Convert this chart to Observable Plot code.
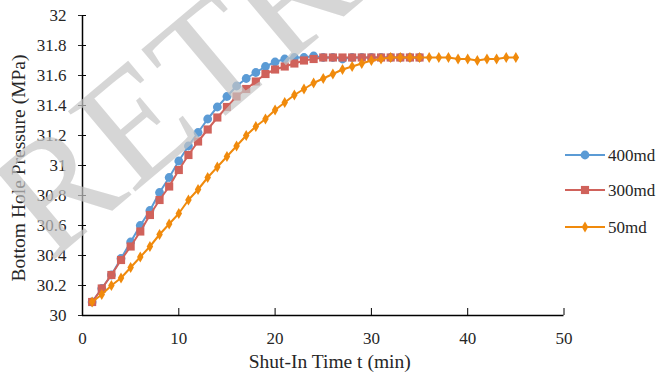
<!DOCTYPE html>
<html><head><meta charset="utf-8">
<script src="https://cdn.jsdelivr.net/npm/d3@7"></script>
<script src="https://cdn.jsdelivr.net/npm/@observablehq/plot@0.6"></script>
<style>
body{margin:0;background:#fff}
#chart{position:relative;width:659px;height:377px;overflow:hidden}
#chart svg text{font-family:"Liberation Serif","Times New Roman",serif}
</style>
</head><body><div id="chart"></div>
<script>
const seriesNames = ["400md", "300md", "50md"];
const seriesColors = ["#5b9bd5", "#d0625b", "#f08a0c"];
const seriesSymbols = ["circle", "square", "diamond"];

const t400 = [1,2,3,4,5,6,7,8,9,10,11,12,13,14,15,16,17,18,19,20,21,22,23,24,25,26,27,28,29,30,31,32,33,34,35];
const p400 = [30.09,30.18,30.27,30.38,30.49,30.60,30.70,30.82,30.92,31.03,31.13,31.22,31.31,31.39,31.46,31.53,31.58,31.62,31.66,31.69,31.71,31.72,31.72,31.73,31.72,31.72,31.71,31.72,31.72,31.72,31.72,31.72,31.72,31.72,31.72];

const t300 = [1,2,3,4,5,6,7,8,9,10,11,12,13,14,15,16,17,18,19,20,21,22,23,24,25,26,27,28,29,30,31,32,33,34,35];
const p300 = [30.09,30.18,30.27,30.37,30.46,30.56,30.67,30.77,30.86,30.97,31.07,31.16,31.24,31.32,31.39,31.46,31.51,31.56,31.61,31.64,31.66,31.68,31.70,31.71,31.72,31.72,31.72,31.72,31.72,31.72,31.72,31.72,31.72,31.72,31.72];

const t50 = [1,2,3,4,5,6,7,8,9,10,11,12,13,14,15,16,17,18,19,20,21,22,23,24,25,26,27,28,29,30,31,32,33,34,35,36,37,38,39,40,41,42,43,44,45];
const p50 = [30.09,30.14,30.20,30.25,30.32,30.39,30.46,30.54,30.61,30.68,30.77,30.84,30.92,30.99,31.06,31.13,31.20,31.26,31.31,31.37,31.42,31.47,31.51,31.55,31.58,31.61,31.64,31.66,31.68,31.70,31.71,31.72,31.72,31.72,31.72,31.72,31.72,31.72,31.71,31.71,31.70,31.71,31.71,31.72,31.72];

const xTicks = [0,10,20,30,40,50];
const yTicks = [30,30.2,30.4,30.6,30.8,31,31.2,31.4,31.6,31.8,32];
const yTickLabels = ["30","30.2","30.4","30.6","30.8","31","31.2","31.4","31.6","31.8","32"];
const xTitle = "Shut-In Time t (min)";
const yTitle = "Bottom Hole Pressure (MPa)";
const watermark = "RETRACTED";

const series = [
  {name: seriesNames[0], t: t400, p: p400},
  {name: seriesNames[1], t: t300, p: p300},
  {name: seriesNames[2], t: t50, p: p50}
];
const rows = series.flatMap(s => s.t.map((t, i) => ({series: s.name, t, p: s.p[i]})));

const font = "Liberation Serif";
const W = 659, H = 377;
const mL = 82, mR = 95.5, mT = 15, mB = 62;
const radii = [4.4, 4.6, 3.4];

const marks = [];
series.forEach((s, k) => {
  const d = rows.filter(r => r.series === s.name);
  marks.push(Plot.line(d, {x: "t", y: "p", stroke: seriesColors[k], strokeWidth: 2}));
  marks.push(Plot.dot(d, {x: "t", y: "p", fill: seriesColors[k], stroke: "none", symbol: seriesSymbols[k], r: radii[k]}));
});

const chart = Plot.plot({
  width: W, height: H,
  marginLeft: mL, marginRight: mR, marginTop: mT, marginBottom: mB,
  style: {fontFamily: font, fontSize: "17px", color: "#262626", background: "#fff", overflow: "visible"},
  x: {domain: [0, 50]},
  y: {domain: [30, 32]},
  marks: [
    ...marks,
    Plot.ruleX([0], {stroke: "#000", strokeWidth: 1.5}),
    Plot.ruleY([30], {stroke: "#000", strokeWidth: 1.5}),
    Plot.tickX(xTicks, {x: d => d, stroke: "#000", insetTop: (H - mT - mB) - 7}),
    Plot.tickY(yTicks, {y: d => d, stroke: "#000", insetRight: (W - mL - mR) - 4}),
    Plot.axisX({ticks: xTicks, tickSize: 0, tickPadding: 16, label: null, fill: "#262626", fontFamily: font, fontSize: 17}),
    Plot.axisY({ticks: yTicks, tickFormat: (d, i) => yTickLabels[i], tickSize: 4, tickPadding: 12, label: null, fill: "#262626", fontFamily: font, fontSize: 17})
  ]
});

const svg = d3.select(chart);
// axis titles
svg.append("text").attr("x", (mL + (W - mR)) / 2 + 7).attr("y", 368)
  .attr("text-anchor", "middle").attr("font-family", font).attr("font-size", 19.5).attr("fill", "#262626").text(xTitle);
svg.append("text").attr("transform", `translate(25,${(mT + H - mB) / 2 + 3}) rotate(-90)`)
  .attr("text-anchor", "middle").attr("font-family", font).attr("font-size", 19.5).attr("fill", "#262626").text(yTitle);

// legend
const legendY = [155, 190, 227];
const sym = {circle: d3.symbolCircle, square: d3.symbolSquare, diamond: d3.symbolDiamond};
seriesNames.forEach((n, k) => {
  const g = svg.append("g").attr("transform", `translate(565,${legendY[k]})`);
  g.append("line").attr("x1", 0).attr("x2", 40).attr("y1", 0).attr("y2", 0).attr("stroke", seriesColors[k]).attr("stroke-width", 2);
  const r = radii[k];
  g.append("path").attr("transform", "translate(20,0)")
    .attr("d", d3.symbol(sym[seriesSymbols[k]], Math.PI * r * r)())
    .attr("fill", seriesColors[k]);
  g.append("text").attr("x", 43).attr("y", 0).attr("dy", "0.35em").attr("text-anchor", "start")
    .attr("font-family", font).attr("font-size", 17).attr("fill", "#262626").text(n);
});

// watermark overlay
svg.append("text").attr("transform", "translate(50,263) rotate(-40)").attr("text-anchor", "start")
  .attr("font-family", font).attr("font-size", 160).attr("fill", "#c4c4c4").attr("fill-opacity", 0.7)
  .text(watermark);

document.getElementById("chart").appendChild(chart);
</script>
</body></html>
